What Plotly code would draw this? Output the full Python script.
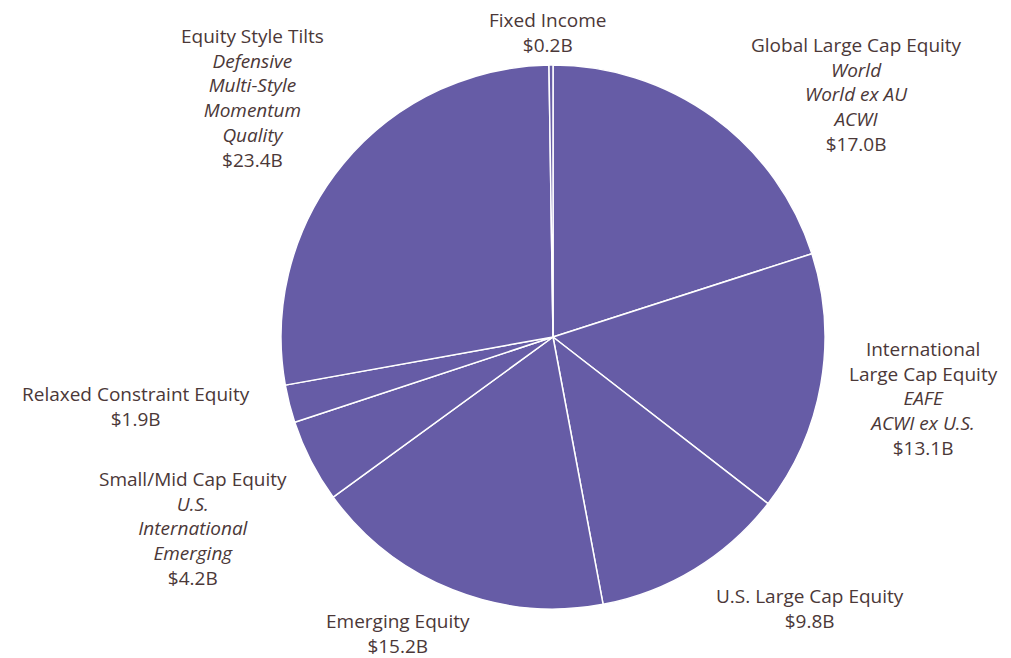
import plotly.graph_objects as go

categories = ["Global Large Cap Equity", "International<br>Large Cap Equity", "U.S. Large Cap Equity",
              "Emerging Equity", "Small/Mid Cap Equity", "Relaxed Constraint Equity",
              "Equity Style Tilts", "Fixed Income"]
subtypes = [["World", "World ex AU", "ACWI"], ["EAFE", "ACWI ex U.S."], [], [],
            ["U.S.", "International", "Emerging"], [], ["Defensive", "Multi-Style", "Momentum", "Quality"], []]
aum_bn = [17.0, 13.1, 9.8, 15.2, 4.2, 1.9, 23.4, 0.2]

# page has an 8px body margin, so the figure is drawn 8px in from the window corner
OFF = 8
W, H = 1011 - OFF, 658 - OFF
# label block centres in window pixels (layout only)
label_px = [(856, 94), (923, 398), (810, 608), (398, 633),
            (193, 528), (136, 406), (252, 98), (548, 32)]

labels = []
for cat, subs, v in zip(categories, subtypes, aum_bn):
    parts = [cat] + ["<i>%s</i>" % s for s in subs] + ["$%.1fB" % v]
    labels.append("<br>".join(parts))

# pie centre (553, 337), radius 272 px in window pixels
cx, cy, r = 553 - OFF, 337 - OFF, 272

fig = go.Figure(go.Pie(
    values=aum_bn,
    labels=[c.replace("<br>", " ") for c in categories],
    textinfo="none",
    sort=False,
    direction="clockwise",
    marker=dict(colors=["#665ca6"] * len(aum_bn), line=dict(color="#ffffff", width=1.5)),
    showlegend=False,
    hoverinfo="label+value",
    domain=dict(x=[(cx - r) / W, (cx + r) / W], y=[1 - (cy + r) / H, 1 - (cy - r) / H]),
))

for txt, (px, py) in zip(labels, label_px):
    fig.add_annotation(
        text=txt, x=(px - OFF) / W, y=1 - (py - OFF) / H, xref="paper", yref="paper",
        xanchor="center", yanchor="middle", align="center", showarrow=False,
        borderpad=0,
        font=dict(family="Open Sans", size=19, color="#4b3838"),
    )

fig.update_layout(
    width=W, height=H,
    margin=dict(l=0, r=0, t=0, b=0),
    paper_bgcolor="white",
    plot_bgcolor="white",
)
fig.write_html("out.html")
